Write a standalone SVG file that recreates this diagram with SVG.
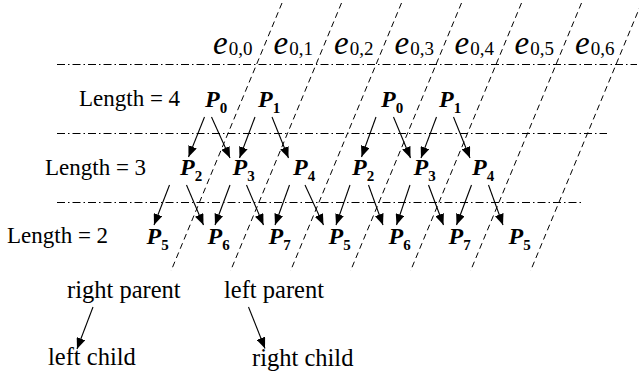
<svg xmlns="http://www.w3.org/2000/svg" width="639" height="375" viewBox="0 0 639 375">
<style>
text,tspan{font-family:"Liberation Serif","Times New Roman",serif;fill:#000}
.lbl{font-size:23px}
.leg{font-size:24.5px}
.e{font-size:33px;font-style:italic}
.es{font-size:19px;font-style:normal}
.p{font-size:24px;font-weight:bold;font-style:italic}
.ps{font-size:15px;font-weight:bold;font-style:normal}
.diag{stroke:#000;stroke-width:1;stroke-dasharray:6 4;fill:none}
.hl{stroke:#000;stroke-width:1;stroke-dasharray:8 3 1.5 3;fill:none}
.arr{stroke:#000;stroke-width:1.1;fill:none;marker-end:url(#ah)}
</style>
<defs>
<marker id="ah" markerUnits="userSpaceOnUse" markerWidth="11" markerHeight="9" refX="11" refY="4.5" orient="auto">
<path d="M0,0 L11,4.5 L0,9 Z" fill="#000"/>
</marker>
</defs>
<g id="grid">
<line class="hl" x1="57" y1="64.5" x2="637" y2="64.5"/>
<line class="hl" x1="57" y1="133.5" x2="607" y2="133.5"/>
<line class="hl" x1="57" y1="202.5" x2="584" y2="202.5"/>
<line class="diag" x1="282" y1="3" x2="171" y2="271"/>
<line class="diag" x1="341.5" y1="3" x2="230.5" y2="271"/>
<line class="diag" x1="401.5" y1="3" x2="290.5" y2="271"/>
<line class="diag" x1="461.5" y1="3" x2="350.5" y2="271"/>
<line class="diag" x1="521.5" y1="3" x2="410.5" y2="271"/>
<line class="diag" x1="581.5" y1="3" x2="470.5" y2="271"/>
<line class="diag" x1="641.5" y1="3" x2="530.5" y2="271"/>
</g>
<g id="edge-labels" font-family="Liberation Serif, serif">
<text x="213" y="53.5"><tspan class="e">e</tspan><tspan class="es" dx="1" dy="1">0,0</tspan></text>
<text x="273.5" y="53.5"><tspan class="e">e</tspan><tspan class="es" dx="1" dy="1">0,1</tspan></text>
<text x="334" y="53.5"><tspan class="e">e</tspan><tspan class="es" dx="1" dy="1">0,2</tspan></text>
<text x="394.5" y="53.5"><tspan class="e">e</tspan><tspan class="es" dx="1" dy="1">0,3</tspan></text>
<text x="454.5" y="53.5"><tspan class="e">e</tspan><tspan class="es" dx="1" dy="1">0,4</tspan></text>
<text x="514.5" y="53.5"><tspan class="e">e</tspan><tspan class="es" dx="1" dy="1">0,5</tspan></text>
<text x="575" y="53.5"><tspan class="e">e</tspan><tspan class="es" dx="1" dy="1">0,6</tspan></text>
</g>
<g id="row-labels" font-family="Liberation Serif, serif">
<text class="lbl" x="79" y="106">Length = 4</text>
<text class="lbl" x="45" y="175">Length = 3</text>
<text class="lbl" x="7" y="243">Length = 2</text>
</g>
<g id="n-r1-P0"><text x="205" y="106.5"><tspan class="p">P</tspan><tspan class="ps" dy="6">0</tspan></text></g>
<g id="n-r1-P1"><text x="258" y="106.5"><tspan class="p">P</tspan><tspan class="ps" dy="6">1</tspan></text></g>
<g id="n-r1-P0b"><text x="381" y="106.5"><tspan class="p">P</tspan><tspan class="ps" dy="6">0</tspan></text></g>
<g id="n-r1-P1b"><text x="439" y="106.5"><tspan class="p">P</tspan><tspan class="ps" dy="6">1</tspan></text></g>
<g id="n-r2-P2"><text x="180" y="175"><tspan class="p">P</tspan><tspan class="ps" dy="6">2</tspan></text></g>
<g id="n-r2-P3"><text x="232.5" y="175"><tspan class="p">P</tspan><tspan class="ps" dy="6">3</tspan></text></g>
<g id="n-r2-P4"><text x="293" y="175"><tspan class="p">P</tspan><tspan class="ps" dy="6">4</tspan></text></g>
<g id="n-r2-P2b"><text x="352" y="175"><tspan class="p">P</tspan><tspan class="ps" dy="6">2</tspan></text></g>
<g id="n-r2-P3b"><text x="413.5" y="175"><tspan class="p">P</tspan><tspan class="ps" dy="6">3</tspan></text></g>
<g id="n-r2-P4b"><text x="472" y="175"><tspan class="p">P</tspan><tspan class="ps" dy="6">4</tspan></text></g>
<g id="n-r3-P5"><text x="146.5" y="243.5"><tspan class="p">P</tspan><tspan class="ps" dy="6">5</tspan></text></g>
<g id="n-r3-P6"><text x="207.5" y="243.5"><tspan class="p">P</tspan><tspan class="ps" dy="6">6</tspan></text></g>
<g id="n-r3-P7"><text x="268.5" y="243.5"><tspan class="p">P</tspan><tspan class="ps" dy="6">7</tspan></text></g>
<g id="n-r3-P5b"><text x="328.5" y="243.5"><tspan class="p">P</tspan><tspan class="ps" dy="6">5</tspan></text></g>
<g id="n-r3-P6b"><text x="388.5" y="243.5"><tspan class="p">P</tspan><tspan class="ps" dy="6">6</tspan></text></g>
<g id="n-r3-P7b"><text x="448.5" y="243.5"><tspan class="p">P</tspan><tspan class="ps" dy="6">7</tspan></text></g>
<g id="n-r3-P5c"><text x="508.5" y="243.5"><tspan class="p">P</tspan><tspan class="ps" dy="6">5</tspan></text></g>
<g id="legend-right-parent"><text class="leg" x="67" y="298">right parent</text></g>
<g id="legend-left-child"><text class="leg" x="48" y="365">left child</text></g>
<g id="legend-left-parent"><text class="leg" x="224" y="298">left parent</text></g>
<g id="legend-right-child"><text class="leg" x="252" y="366">right child</text></g>
<g id="connectors">
<line class="arr" x1="204.5" y1="117" x2="188.5" y2="157"/>
<line class="arr" x1="211.5" y1="117" x2="230" y2="158"/>
<line class="arr" x1="255" y1="117" x2="239.5" y2="158"/>
<line class="arr" x1="272" y1="117" x2="288.5" y2="158"/>
<line class="arr" x1="376" y1="117" x2="361.5" y2="157"/>
<line class="arr" x1="393.5" y1="117" x2="410.5" y2="158"/>
<line class="arr" x1="436.5" y1="117" x2="421" y2="158"/>
<line class="arr" x1="453.5" y1="117" x2="470" y2="158"/>
<line class="arr" x1="169.5" y1="185" x2="154" y2="225"/>
<line class="arr" x1="186.5" y1="185" x2="203.5" y2="225"/>
<line class="arr" x1="230" y1="185" x2="215" y2="225"/>
<line class="arr" x1="246.5" y1="185" x2="263.5" y2="225"/>
<line class="arr" x1="289.5" y1="185" x2="275" y2="225"/>
<line class="arr" x1="305" y1="185" x2="323.5" y2="225"/>
<line class="arr" x1="350" y1="185" x2="336" y2="225"/>
<line class="arr" x1="368.5" y1="185" x2="383" y2="225"/>
<line class="arr" x1="410" y1="185" x2="396.5" y2="225"/>
<line class="arr" x1="428.5" y1="185" x2="443.5" y2="225"/>
<line class="arr" x1="471.5" y1="185" x2="456.5" y2="225"/>
<line class="arr" x1="488.5" y1="185" x2="503" y2="225"/>
<line class="arr" x1="93" y1="307" x2="77" y2="349"/>
<line class="arr" x1="248.5" y1="307" x2="265" y2="348.5"/>
</g>
</svg>
